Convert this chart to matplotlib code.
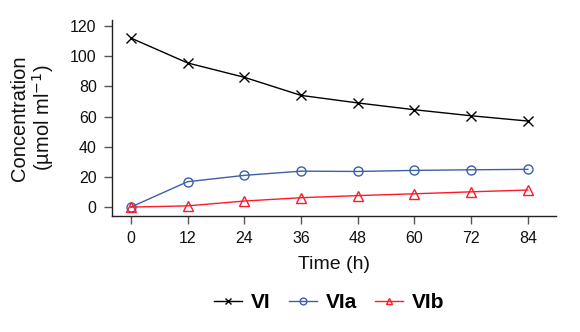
import matplotlib.pyplot as plt

plt.rcParams['font.family'] = ['Liberation Sans', 'DejaVu Sans']

time_h = [0, 12, 24, 36, 48, 60, 72, 84]
vi = [112, 95.5, 86, 74, 69, 64.5, 60.5, 57]
via = [0, 16.8, 21, 23.8, 23.6, 24.3, 24.7, 25]
vib = [0, 0.8, 4, 6.2, 7.6, 8.8, 10.1, 11.3]

fig = plt.figure(figsize=(5.8, 3.32), dpi=100)
ax = fig.add_axes([0.193, 0.349, 0.766, 0.591])

ax.plot(time_h, vi, color='black', lw=1, marker='x', ms=6.5, mew=1, label='VI')
ax.plot(time_h, via, color='#3f5ea8', lw=1, marker='o', ms=6.5, mfc='none', mew=1, label='VIa')
ax.plot(time_h, vib, color='#ff1a2a', lw=1, marker='^', ms=6.5, mfc='none', mew=1, label='VIb')

ax.set_xlim(-4, 90)
ax.set_ylim(-6, 124)
ax.set_xticks(time_h)
ax.set_yticks(range(0, 121, 20))
ax.tick_params(labelsize=11.5, length=6, width=1, color='#555555',
               labelcolor='#111111', pad=5)
for s in ['top', 'right']:
    ax.spines[s].set_visible(False)
for s in ['left', 'bottom']:
    ax.spines[s].set_linewidth(1)
    ax.spines[s].set_color('#222222')

ax.set_xlabel('Time (h)', fontsize=14, color='#111111', labelpad=7)
ax.set_ylabel('Concentration\n(µmol ml$^{-1}$)', fontsize=14.5, color='#111111',
              linespacing=1.05, labelpad=10)

leg = ax.legend(loc='center', bbox_to_anchor=(0.489, -0.44), ncol=3, frameon=False,
                prop={'weight': 'bold', 'size': 15}, handlelength=1.35,
                handletextpad=0.4, columnspacing=0.9, markerscale=0.75)

fig.savefig('out.png', dpi=100)
